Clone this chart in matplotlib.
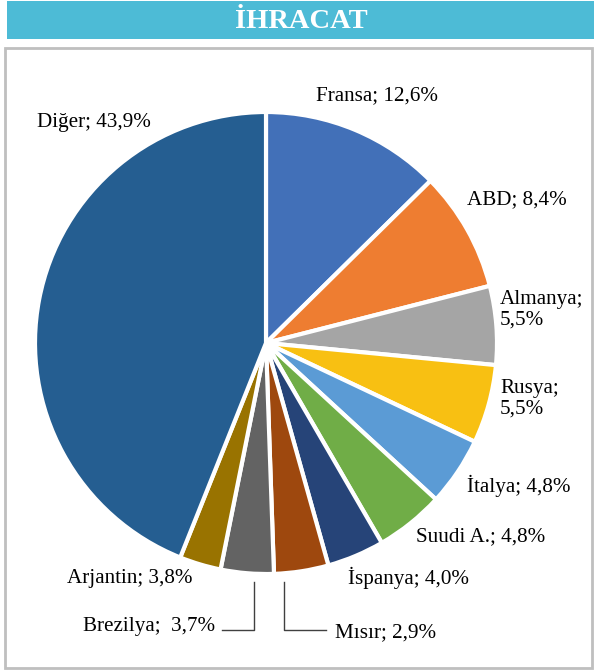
import matplotlib
matplotlib.use("Agg")
import matplotlib.pyplot as plt
from matplotlib.patches import Rectangle
from matplotlib.lines import Line2D

# slice order (clockwise from 12 o'clock)
countries = ["Fransa", "ABD", "Almanya", "Rusya", "İtalya", "Suudi A.",
             "İspanya", "Arjantin", "Brezilya", "Mısır", "Diğer"]
shares = [12.6, 8.4, 5.5, 5.5, 4.8, 4.8, 4.0, 3.8, 3.7, 2.9, 43.9]
colors = ["#4270B8", "#EE7D31", "#A5A5A5", "#F8C012", "#5B9BD5", "#70AD47",
          "#264478", "#9E480E", "#636363", "#997300", "#255E91"]
title = "İHRACAT"

W, H = 594, 671
fig = plt.figure(figsize=(W / 100, H / 100), dpi=100)
plt.rcParams['font.family'] = ['Liberation Serif', 'DejaVu Serif']

def fx(px):
    return px / W

def fy(py):
    return 1 - py / H

# title bar
fig.patches.append(Rectangle((fx(7), fy(39)), fx(594) - fx(7), fy(1) - fy(39),
                             transform=fig.transFigure, facecolor="#4DBBD6",
                             edgecolor="none", zorder=0))
fig.text(fx(301), fy(21), title, ha="center", va="center", color="white",
         fontsize=20.5, fontweight="bold")

# chart border
fig.patches.append(Rectangle((fx(5), fy(668)), fx(592) - fx(5), fy(48) - fy(668),
                             transform=fig.transFigure, facecolor="none",
                             edgecolor="#BFBFBF", linewidth=2, zorder=0))

cx, cy, r = 266, 343, 231
ax = fig.add_axes([fx(cx - r), fy(cy + r), 2 * r / W, 2 * r / H])
ax.pie(shares, colors=colors, startangle=90, counterclock=False,
       wedgeprops=dict(edgecolor="white", linewidth=3))
ax.set_xlim(-1, 1)
ax.set_ylim(-1, 1)
ax.set_aspect("equal")
ax.axis("off")

def fmt(v):
    return f"{v:.1f}".replace(".", ",") + "%"

val = dict(zip(countries, shares))
lab = {c: f"{c}; {fmt(v)}" for c, v in val.items()}
fs = 15.2
# label positions (left x, center y) in pixels
pos = {
    "Fransa": (316, 96, lab["Fransa"]),
    "ABD": (467, 200, lab["ABD"]),
    "Almanya": (500, 310, "Almanya;\n" + fmt(val["Almanya"])),
    "Rusya": (500, 399, "Rusya;\n" + fmt(val["Rusya"])),
    "İtalya": (467, 486, lab["İtalya"]),
    "Suudi A.": (416, 537, lab["Suudi A."]),
    "İspanya": (348, 578, lab["İspanya"]),
    "Mısır": (335, 633, lab["Mısır"]),
    "Brezilya": (83, 627, "Brezilya;  " + fmt(val["Brezilya"])),
    "Arjantin": (67, 578, lab["Arjantin"]),
    "Diğer": (37, 123, lab["Diğer"]),
}
for k, (x, y, t) in pos.items():
    fig.text(fx(x), fy(y), t, ha="left", va="center", fontsize=fs,
             color="black", linespacing=1.1)

# leader lines
fig.add_artist(Line2D([fx(222), fx(254), fx(254)], [fy(630), fy(630), fy(582)],
                      transform=fig.transFigure, color="#404040", linewidth=1))
fig.add_artist(Line2D([fx(284), fx(284), fx(326)], [fy(582), fy(630), fy(630)],
                      transform=fig.transFigure, color="#404040", linewidth=1))

fig.savefig("out.png", dpi=100)
